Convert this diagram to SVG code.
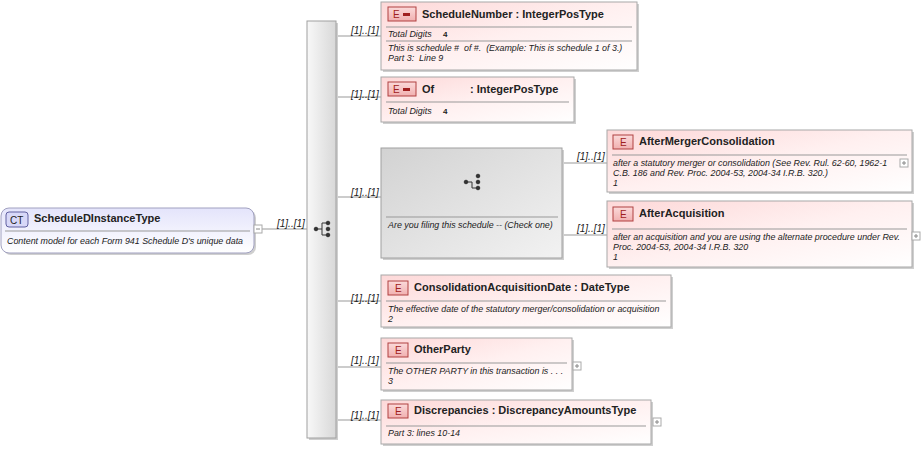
<svg xmlns="http://www.w3.org/2000/svg" width="922" height="451" viewBox="0 0 922 451">
<defs>
<linearGradient id="pink" x1="0" y1="0" x2="1" y2="1"><stop offset="0" stop-color="#fdd8d8"/><stop offset="0.5" stop-color="#fff0f0"/><stop offset="1" stop-color="#ffffff"/></linearGradient>
<linearGradient id="blue" x1="0" y1="0" x2="0" y2="1"><stop offset="0" stop-color="#e4e4fb"/><stop offset="1" stop-color="#ffffff"/></linearGradient>
<linearGradient id="gray" x1="0" y1="0" x2="1" y2="1"><stop offset="0" stop-color="#d2d2d2"/><stop offset="1" stop-color="#f2f2f2"/></linearGradient>
<linearGradient id="bar" x1="0" y1="0" x2="1" y2="0"><stop offset="0" stop-color="#f8f8f8"/><stop offset="1" stop-color="#d8d8d8"/></linearGradient>
<linearGradient id="badge" x1="0" y1="0" x2="0" y2="1"><stop offset="0" stop-color="#fbdada"/><stop offset="1" stop-color="#f1b0b0"/></linearGradient>
</defs>
<style>
text{font-family:"Liberation Sans",Arial,sans-serif;fill:#222;white-space:pre}
.t{font-size:11px;font-weight:bold}
.d{font-size:8.9px;font-style:italic}
.m{font-size:10px;font-style:italic}
.box{fill:url(#pink);stroke:#a8a8a8}
.sh{fill:#cfcfcf}
.sep{stroke:#999;stroke-width:1}
.bd{fill:url(#badge);stroke:#b04040}
.bt{font-size:10px;fill:#a02020}
.ln{stroke:#999;fill:none}
.pl{fill:#fff;stroke:#aaa}
</style>
<g id="connectors">
<path class="ln" d="M262 229H307M336 36H381M336 97H381M336 197H381M336 301H381M336 367H381M336 420H381M562 163H607M562 235H607"/>
<text class="m" x="277" y="227">[1]..[1]</text>
<text class="m" x="351" y="34">[1]..[1]</text>
<text class="m" x="351" y="98">[1]..[1]</text>
<text class="m" x="351" y="196">[1]..[1]</text>
<text class="m" x="351" y="302">[1]..[1]</text>
<text class="m" x="351" y="364">[1]..[1]</text>
<text class="m" x="351" y="419">[1]..[1]</text>
<text class="m" x="577" y="160">[1]..[1]</text>
<text class="m" x="577" y="232">[1]..[1]</text>
</g>
<g id="root">
<rect x="3" y="210" width="253" height="45" rx="8" class="sh"/>
<rect x="1" y="208" width="253" height="45" rx="8" fill="url(#blue)" stroke="#a0a0c0"/>
<line x1="5" y1="231" x2="250" y2="231" class="sep"/>
<rect x="6" y="212" width="22" height="15" rx="3" fill="#d8d8f8" stroke="#6060a0"/>
<text x="10" y="223.5" font-size="10" fill="#303080">CT</text>
<text class="t" x="34" y="222">ScheduleDInstanceType</text>
<text class="d" x="7" y="244">Content model for each Form 941 Schedule D's unique data</text>
<rect x="254" y="225" width="8" height="8" class="pl"/><line x1="256" y1="229" x2="260" y2="229" stroke="#888"/>
</g>
<g id="seq">
<rect x="309" y="23" width="29" height="417" class="sh"/>
<rect x="307" y="21" width="29" height="417" fill="url(#bar)" stroke="#a0a0a0"/>
<g fill="#333" stroke="#333"><circle cx="316" cy="229" r="1.8"/><circle cx="328" cy="223" r="1.8"/><circle cx="328" cy="229" r="1.8"/><circle cx="328" cy="235" r="1.8"/><path d="M316 229H322M322 223V235M322 223H328M322 235H328" fill="none"/></g>
</g>
<g id="n1">
<rect x="383" y="4" width="256" height="68" class="sh"/>
<rect x="381" y="2" width="256" height="68" class="box"/>
<rect x="388" y="7" width="28" height="14" class="bd"/><text class="bt" x="393" y="18">E</text><rect x="403" y="13" width="7" height="3" fill="#a02020"/>
<text class="t" x="422" y="18">ScheduleNumber : IntegerPosType</text>
<line x1="386" y1="27" x2="632" y2="27" class="sep"/>
<text class="d" x="388" y="37">Total Digits</text><text x="443" y="37" font-size="8" font-weight="bold">4</text>
<line x1="386" y1="41" x2="632" y2="41" class="sep"/>
<text class="d" x="388" y="51">This is schedule #  of #.  (Example: This is schedule 1 of 3.)</text>
<text class="d" x="388" y="61">Part 3:  Line 9</text>
</g>
<g id="n2">
<rect x="383" y="79" width="193" height="45" class="sh"/>
<rect x="381" y="77" width="193" height="45" class="box"/>
<rect x="388" y="82" width="28" height="14" class="bd"/><text class="bt" x="393" y="93">E</text><rect x="403" y="88" width="7" height="3" fill="#a02020"/>
<text class="t" x="422" y="93">Of</text><text class="t" x="470" y="93">: IntegerPosType</text>
<line x1="386" y1="102" x2="569" y2="102" class="sep"/>
<text class="d" x="388" y="114">Total Digits</text><text x="443" y="114" font-size="8" font-weight="bold">4</text>
</g>
<g id="choice">
<rect x="383" y="150" width="181" height="110" class="sh"/>
<rect x="381" y="148" width="181" height="110" fill="url(#gray)" stroke="#a0a0a0"/>
<g fill="#333" stroke="#333"><circle cx="466" cy="182" r="1.8"/><circle cx="478" cy="176" r="1.8"/><circle cx="478" cy="182" r="1.8"/><circle cx="478" cy="188" r="1.8"/><path d="M466 182H472M472 182V188H478" fill="none"/></g>
<line x1="386" y1="217" x2="558" y2="217" class="sep"/>
<text class="d" x="388" y="228">Are you filing this schedule -- (Check one)</text>
</g>
<g id="n3">
<rect x="609" y="132" width="305" height="62" class="sh"/>
<rect x="607" y="130" width="305" height="62" class="box"/>
<rect x="613" y="135" width="20" height="14" class="bd"/><text class="bt" x="620" y="146">E</text>
<text class="t" x="639" y="145">AfterMergerConsolidation</text>
<line x1="612" y1="155" x2="907" y2="155" class="sep"/>
<text class="d" x="613" y="166">after a statutory merger or consolidation (See Rev. Rul. 62-60, 1962-1</text>
<text class="d" x="613" y="176">C.B. 186 and Rev. Proc. 2004-53, 2004-34 I.R.B. 320.)</text>
<text class="d" x="613" y="186">1</text>
<rect x="900" y="159" width="8" height="8" class="pl"/><path d="M902 163H906M904 161V165" stroke="#888"/>
</g>
<g id="n4">
<rect x="609" y="203" width="305" height="66" class="sh"/>
<rect x="607" y="201" width="305" height="66" class="box"/>
<rect x="613" y="207" width="20" height="14" class="bd"/><text class="bt" x="620" y="218">E</text>
<text class="t" x="639" y="217">AfterAcquisition</text>
<line x1="612" y1="229" x2="907" y2="229" class="sep"/>
<text class="d" x="613" y="240">after an acquisition and you are using the alternate procedure under Rev.</text>
<text class="d" x="613" y="250">Proc. 2004-53, 2004-34 I.R.B. 320</text>
<text class="d" x="613" y="260">1</text>
<rect x="912" y="232" width="8" height="8" class="pl"/><path d="M914 236H918M916 234V238" stroke="#888"/>
</g>
<g id="n5">
<rect x="383" y="277" width="290" height="52" class="sh"/>
<rect x="381" y="275" width="290" height="52" class="box"/>
<rect x="388" y="281" width="20" height="14" class="bd"/><text class="bt" x="395" y="292">E</text>
<text class="t" x="414" y="291">ConsolidationAcquisitionDate : DateType</text>
<line x1="386" y1="301" x2="666" y2="301" class="sep"/>
<text class="d" x="388" y="312">The effective date of the statutory merger/consolidation or acquisition</text>
<text class="d" x="388" y="322">2</text>
</g>
<g id="n6">
<rect x="383" y="340" width="191" height="52" class="sh"/>
<rect x="381" y="338" width="191" height="52" class="box"/>
<rect x="388" y="343" width="20" height="14" class="bd"/><text class="bt" x="395" y="354">E</text>
<text class="t" x="414" y="353">OtherParty</text>
<line x1="386" y1="363" x2="567" y2="363" class="sep"/>
<text class="d" x="388" y="374">The OTHER PARTY in this transaction is . . .</text>
<text class="d" x="388" y="384">3</text>
<rect x="573" y="362" width="8" height="8" class="pl"/><path d="M575 366H579M577 364V368" stroke="#888"/>
</g>
<g id="n7">
<rect x="383" y="402" width="270" height="44" class="sh"/>
<rect x="381" y="400" width="270" height="44" class="box"/>
<rect x="388" y="404" width="20" height="14" class="bd"/><text class="bt" x="395" y="415">E</text>
<text class="t" x="414" y="414">Discrepancies : DiscrepancyAmountsType</text>
<line x1="386" y1="426" x2="646" y2="426" class="sep"/>
<text class="d" x="388" y="436">Part 3: lines 10-14</text>
<rect x="653" y="418" width="8" height="8" class="pl"/><path d="M655 422H659M657 420V424" stroke="#888"/>
</g>
</svg>
